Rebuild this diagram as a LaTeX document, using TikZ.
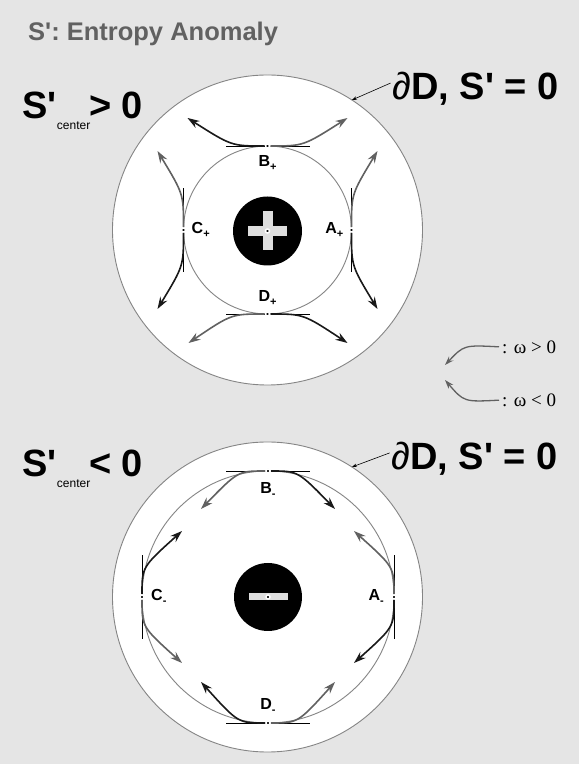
\documentclass[tikz,border=0pt]{standalone}
\usepackage{fontspec}
\setmainfont{Liberation Sans}
\newfontfamily\legendfont{Liberation Serif}
\usetikzlibrary{positioning,arrows.meta}

\definecolor{paper}{gray}{0.9}
\definecolor{ringgray}{gray}{0.52}
\definecolor{flowgray}{gray}{0.38}
\definecolor{titlegray}{gray}{0.38}
\definecolor{bargray}{gray}{0.87}

\newcommand\pr{\textquotesingle}
\newcommand\lsub[1]{\raisebox{-0.25em}{\fontsize{11}{11}\selectfont #1}}

\tikzset{
  ring/.style={circle, draw=ringgray, line width=0.9pt, fill=white, inner sep=0pt, outer sep=0pt},
  hub/.style={circle, fill=black, inner sep=0pt},
  dot/.style={circle, fill=black, draw=white, line width=1.5pt, minimum size=4pt, inner sep=0pt, outer sep=1pt},
  tangent/.style={line width=0.7pt},
  flowd/.style={line width=1.6pt, black!90, -{Stealth[length=12pt,width=8pt]}},
  flowg/.style={flowd, flowgray},
  pointer/.style={line width=0.6pt, shorten <=2pt, -{Stealth[length=5pt,width=3.5pt]}},
  legarrow/.style={line width=1.3pt, flowgray, shorten <=3pt, -{Stealth[length=9pt,width=6pt]}},
  ptlab/.style={font=\bfseries\fontsize{16}{16}\selectfont, inner sep=0pt},
  bigtext/.style={font=\bfseries\fontsize{38}{40}\selectfont, inner sep=0pt},
  subtext/.style={font=\fontsize{12}{12}\selectfont, inner sep=0pt},
  legtext/.style={font=\legendfont\fontsize{19}{19}\selectfont, inner sep=0pt},
}

\begin{document}
\begin{tikzpicture}[x=1pt,y=1pt]
\useasboundingbox (0,0) rectangle (579,764);
\fill[paper] (0,0) rectangle (579,764);

\node[anchor=base west, inner sep=0pt, text=titlegray, font=\bfseries\fontsize{25.5}{27}\selectfont] (title) at (28,723) {S\pr: Entropy Anomaly};

% upper disc: S' > 0 at the center
\node[bigtext, anchor=base west] (cpos) at (22,645) {S\pr};
\node[subtext, anchor=base west] (cpos-sub) at ([yshift=-11pt]cpos.base east) {center};
\node[bigtext, anchor=base west] (cpos-rel) at (89,645) {> 0};
\node[bigtext, anchor=base east] (dpos) at (559,664) {{\mdseries ∂}D, S\pr{} = 0};

\node[ring, minimum size=310pt] (oT) at (267.5,534) {};
\node[ring, minimum size=168pt] (iT) at (267.5,534) {};
\node[hub, minimum size=69pt] (hT) at (267.5,533) {};
\fill[bargray] ([shift={(-19.5,-5)}]hT.center) rectangle ([shift={(19.5,5)}]hT.center);
\fill[bargray] ([shift={(-5,-19.5)}]hT.center) rectangle ([shift={(5,19.5)}]hT.center);
\node[dot] (hT-dot) at (hT.center) {};

\draw[pointer] ([yshift=7pt]dpos.west) -- (oT.57.5);

\node[dot] (Ap) at (iT.east) {};
\node[dot] (Bp) at (iT.north) {};
\node[dot] (Cp) at (iT.west) {};
\node[dot] (Dp) at (iT.south) {};

\foreach \p/\dx/\dy in {Bp/42/0, Dp/42/0, Ap/0/42, Cp/0/42} {
  \draw[tangent] (\p) -- +(\dx,\dy);
  \draw[tangent] (\p) -- +(-\dx,-\dy);
}

\foreach \p/\cx/\cy/\ex/\ey/\s [count=\i] in {
    Bp/-36/0/-80/28/flowd, Bp/36/0/80/28/flowg,
    Ap/0/36/26/79/flowg, Ap/0/-36/26/-79/flowd,
    Cp/0/36/-26/79/flowg, Cp/0/-36/-26/-79/flowd,
    Dp/-36/0/-79/-29/flowg, Dp/36/0/80/-29/flowd} {
  \coordinate (Tend\i) at ([shift={(\ex,\ey)}]\p.center);
  \draw[\s] (\p) .. controls +(\cx,\cy) .. (Tend\i);
}

\node[ptlab, left=5pt of Ap] (Ap-lab) {A\lsub{+}};
\node[ptlab, below=6pt of Bp] (Bp-lab) {B\lsub{+}};
\node[ptlab, right=5pt of Cp] (Cp-lab) {C\lsub{+}};
\node[ptlab, above=5pt of Dp] (Dp-lab) {D\lsub{+}};

% legend
\node[legtext, anchor=west] (legpos) at (502,417) {: ω > 0};
\node[legtext, anchor=west] (legneg) at (502,364) {: ω < 0};
\coordinate (legpos-tip) at (445,399);
\coordinate (legneg-tip) at (445,384);
\draw[legarrow] (legpos.west) .. controls +(-38,2) .. (legpos-tip);
\draw[legarrow] (legneg.west) .. controls +(-38,-2) .. (legneg-tip);

% lower disc: S' < 0 at the center
\node[bigtext, anchor=base west] (cneg) at (22,287) {S\pr};
\node[subtext, anchor=base west] (cneg-sub) at ([yshift=-11pt]cneg.base east) {center};
\node[bigtext, anchor=base west] (cneg-rel) at (89,287) {< 0};
\node[bigtext, anchor=base east] (dneg) at (558,294) {{\mdseries ∂}D, S\pr{} = 0};

\node[ring, minimum size=310pt] (oB) at (267.5,167) {};
\node[ring, minimum size=252pt] (iB) at (268,167) {};
\node[hub, minimum size=68pt] (hB) at (268,167) {};
\fill[bargray] ([shift={(-19.5,-3.5)}]hB.center) rectangle ([shift={(19.5,3.5)}]hB.center);
\node[dot] (hB-dot) at (hB.center) {};

\draw[pointer] ([yshift=7pt]dneg.west) -- (oB.57.5);

\node[dot] (Am) at (iB.east) {};
\node[dot] (Bm) at (iB.north) {};
\node[dot] (Cm) at (iB.west) {};
\node[dot] (Dm) at (iB.south) {};

\foreach \p/\dx/\dy in {Bm/42/0, Dm/42/0, Am/0/42, Cm/0/42} {
  \draw[tangent] (\p) -- +(\dx,\dy);
  \draw[tangent] (\p) -- +(-\dx,-\dy);
}

\foreach \p/\cx/\cy/\ex/\ey/\s [count=\i] in {
    Bm/-30/0/-67/-38/flowg, Bm/30/0/67/-38/flowd,
    Am/0/30/-40/66/flowg, Am/0/-30/-40/-66/flowd,
    Cm/0/30/40/66/flowd, Cm/0/-30/40/-66/flowg,
    Dm/-30/0/-67/41/flowd, Dm/30/0/67/41/flowg} {
  \coordinate (Bend\i) at ([shift={(\ex,\ey)}]\p.center);
  \draw[\s] (\p) .. controls +(\cx,\cy) .. (Bend\i);
}

\node[ptlab, left=7pt of Am] (Am-lab) {A\lsub{-}};
\node[ptlab, below=8pt of Bm] (Bm-lab) {B\lsub{-}};
\node[ptlab, right=6pt of Cm] (Cm-lab) {C\lsub{-}};
\node[ptlab, above=6pt of Dm] (Dm-lab) {D\lsub{-}};
\end{tikzpicture}
\end{document}
